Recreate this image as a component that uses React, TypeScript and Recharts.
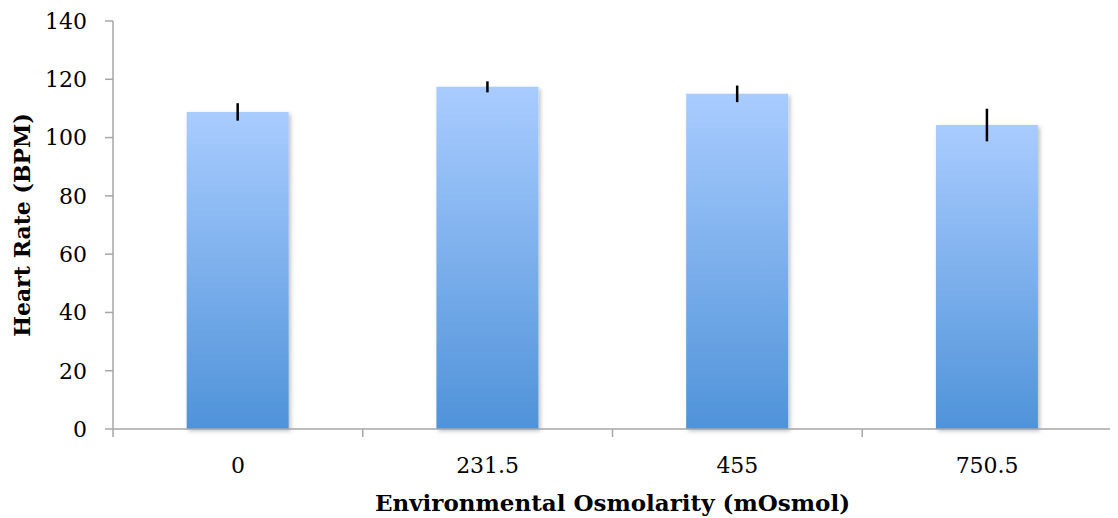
import React from "react";
import { BarChart, Bar, XAxis, YAxis, ErrorBar, Label } from "recharts";

const categories = ["0", "231.5", "455", "750.5"];
const heartRate = [108.8, 117.4, 115.0, 104.3];
const heartRateErr = [3.0, 1.9, 2.85, 5.6];
const yTicks = [0, 20, 40, 60, 80, 100, 120, 140];

const data = categories.map((c, i) => ({ cat: c, hr: heartRate[i], err: heartRateErr[i] }));

const W = 1110;
const H = 510;
const MARGIN = { top: 13, right: 6, left: 0, bottom: 0 };
const Y_W = 105;
const X_H = 89;
const PLOT_W = W - MARGIN.left - MARGIN.right - Y_W;
const STEP = PLOT_W / categories.length;
const FONT = "'DejaVu Serif', serif";
const AXIS_COLOR = "#a6a6a6";

const XTick = (props: any) => {
  const { x, y, payload, index } = props;
  const i = payload && payload.index !== undefined ? payload.index : index;
  return (
    <g>
      <line x1={x - STEP / 2} x2={x - STEP / 2} y1={y} y2={y + 8} stroke={AXIS_COLOR} strokeWidth={1.5} />
      {i === categories.length - 1 && (
        <line x1={x + STEP / 2} x2={x + STEP / 2} y1={y} y2={y + 8} stroke={AXIS_COLOR} strokeWidth={1.5} />
      )}
      <text x={x} y={y + 44} textAnchor="middle" fontFamily={FONT} fontSize={22} fill="#000">
        {payload.value}
      </text>
    </g>
  );
};

export default function App() {
  return (
    <BarChart width={W} height={H} data={data} margin={MARGIN} barCategoryGap="29.5%">
      <defs>
        <linearGradient id="barGrad" x1="0" y1="0" x2="0" y2="1">
          <stop offset="0%" stopColor="#a9ccff" />
          <stop offset="100%" stopColor="#4f93d9" />
        </linearGradient>
        <filter id="shadow" x="-10%" y="-10%" width="130%" height="130%">
          <feDropShadow dx="2" dy="2" stdDeviation="2" floodColor="#000" floodOpacity="0.25" />
        </filter>
      </defs>
      <XAxis
        dataKey="cat"
        height={X_H}
        tickLine={false}
        tickSize={0}
        tickMargin={0}
        tick={<XTick />}
        interval={0}
        axisLine={{ stroke: AXIS_COLOR, strokeWidth: 1.5 }}
      >
        <Label
          content={(p: any) => {
            const vb = p.viewBox;
            return (
              <text x={vb.x + vb.width / 2} y={vb.y + 82} textAnchor="middle" fontFamily={FONT} fontWeight="bold" fontSize={23} fill="#000">
                Environmental Osmolarity (mOsmol)
              </text>
            );
          }}
        />
      </XAxis>
      <YAxis
        width={Y_W}
        domain={[0, 140]}
        ticks={yTicks}
        interval={0}
        tickSize={8}
        tickMargin={18}
        tick={{ fontFamily: FONT, fontSize: 22, fill: "#000" }}
        tickLine={{ stroke: AXIS_COLOR, strokeWidth: 1.5 }}
        axisLine={{ stroke: AXIS_COLOR, strokeWidth: 1.5 }}
      >
        <Label
          content={(p: any) => {
            const vb = p.viewBox;
            const cx = vb.x + 14;
            const cy = vb.y + vb.height / 2;
            return (
              <text x={cx} y={cy} transform={`rotate(-90 ${cx} ${cy})`} textAnchor="middle" dominantBaseline="central" fontFamily={FONT} fontWeight="bold" fontSize={22} fill="#000">
                Heart Rate (BPM)
              </text>
            );
          }}
        />
      </YAxis>
      <Bar dataKey="hr" fill="url(#barGrad)" isAnimationActive={false} style={{ filter: "url(#shadow)" }}>
        <ErrorBar dataKey="err" width={0} stroke="#000" strokeWidth={2.5} direction="y" />
      </Bar>
    </BarChart>
  );
}
